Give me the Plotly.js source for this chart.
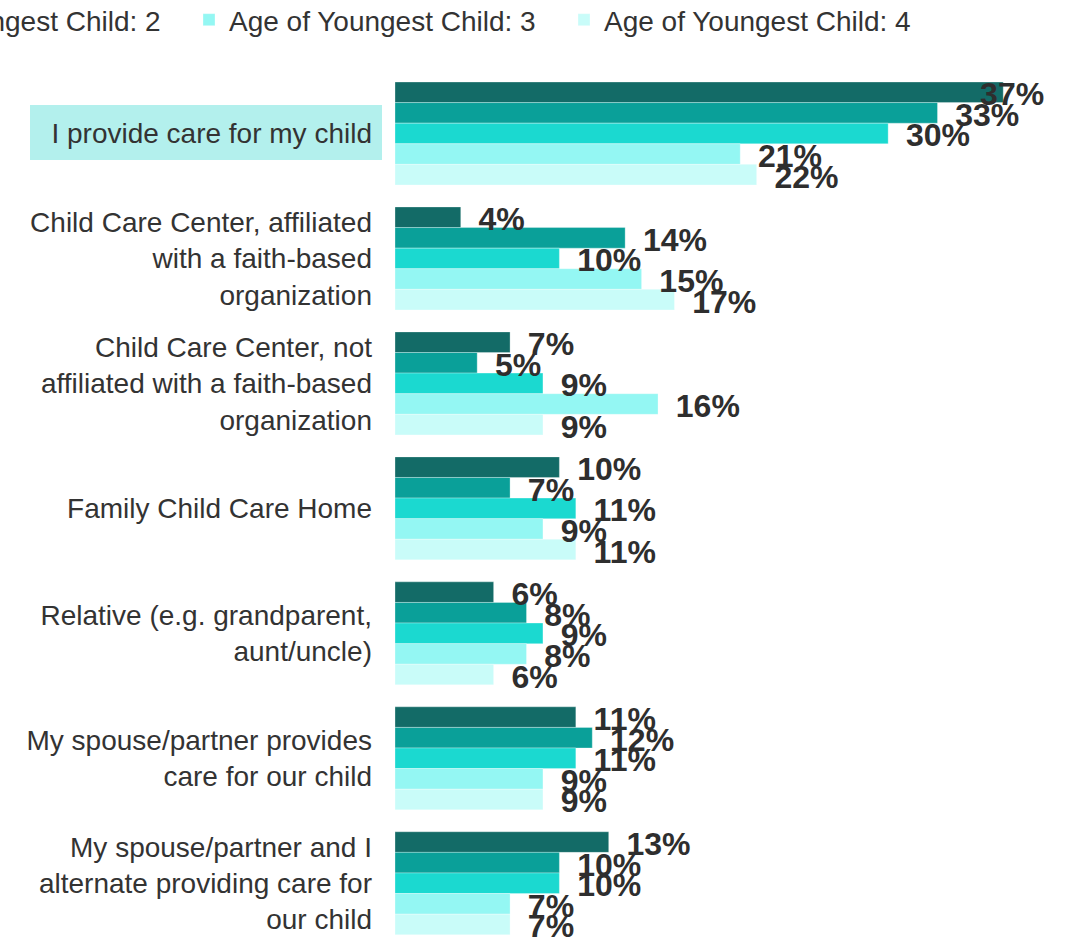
<!DOCTYPE html>
<html>
<head>
<meta charset="utf-8">
<script src="https://cdn.plot.ly/plotly-3.0.1.min.js"></script>
<style>
  html, body { margin: 0; padding: 0; overflow: hidden; background: #fff; }
  #wrap { width: 1069px; height: 937px; overflow: hidden; position: relative; }
  #chart { position: absolute; top: 0; left: -2931px; width: 4000px; height: 937px; }
</style>
</head>
<body>
<div id="wrap"><div id="chart"></div></div>
<script>
// ---- data ----
const categories = [
  "I provide care for my child",
  "Child Care Center, affiliated<br>with a faith-based<br>organization",
  "Child Care Center, not<br>affiliated with a faith-based<br>organization",
  "Family Child Care Home",
  "Relative (e.g. grandparent,<br>aunt/uncle)",
  "My spouse/partner provides<br>care for our child",
  "My spouse/partner and I<br>alternate providing care for<br>our child"
];
const seriesNames = [
  "Age of Youngest Child: 0",
  "Age of Youngest Child: 1",
  "Age of Youngest Child: 2",
  "Age of Youngest Child: 3",
  "Age of Youngest Child: 4"
];
const age0 = [37, 4, 7, 10, 6, 11, 13];
const age1 = [33, 14, 5, 7, 8, 12, 10];
const age2 = [30, 10, 9, 11, 9, 11, 10];
const age3 = [21, 15, 16, 9, 8, 9, 7];
const age4 = [22, 17, 9, 11, 6, 9, 7];
const seriesValues = [age0, age1, age2, age3, age4];

// ---- styles ----
const colors = ["#136b67", "#0aa099", "#1bd9d0", "#94f7f3", "#c9fcf9"];
const xMax = 41.0;
const pad = "\u00a0\u00a0";
const yRange = [6.43, -0.5];
const labelDrop = 0.04; // labels sit slightly below bar centres
// the figure is wider than the window and shifted left (the view is cropped like the reference)
const W = 4000, SHIFT = 2931, L = SHIFT + 395, PW = W - L;
const pageToPaperX = px => (px - 395) / PW;

const traces = [];
seriesValues.forEach((vals, i) => {
  traces.push({
    type: "bar",
    orientation: "h",
    name: seriesNames[i],
    x: vals,
    y: categories,
    offsetgroup: "g" + i,
    alignmentgroup: "a",
    marker: { color: colors[i], line: { color: "rgba(255,255,255,0.6)", width: 0.5 } },
    hoverinfo: "x+name"
  });
});
seriesValues.forEach((vals, i) => {
  traces.push({
    type: "scatter",
    mode: "text",
    orientation: "h",
    x: vals,
    y: categories,
    yaxis: "y2",
    offsetgroup: "t" + i,
    alignmentgroup: "b",
    text: vals.map(v => pad + v + "%"),
    textposition: vals.map(v => (v >= 35 ? "middle center" : "middle right")),
    textfont: { family: "Liberation Sans, Arial, sans-serif", size: 32, weight: "bold", color: "#2e2e2e" },
    cliponaxis: false,
    showlegend: false,
    hoverinfo: "skip"
  });
});

const layout = {
  width: W,
  height: 937,
  margin: { l: L, r: 0, t: 71, b: 0, autoexpand: false },
  paper_bgcolor: "#ffffff",
  plot_bgcolor: "#ffffff",
  barmode: "group",
  bargap: 0.176,
  bargroupgap: 0,
  scattermode: "group",
  scattergap: 0.176,
  font: { family: "Liberation Sans, Arial, sans-serif", color: "#333333" },
  xaxis: { visible: false, range: [0, xMax], fixedrange: true },
  yaxis: {
    type: "category",
    autorange: false,
    range: yRange,
    showgrid: false,
    zeroline: false,
    showline: false,
    ticks: "",
    ticklabelstandoff: 22,
    automargin: false,
    tickfont: { size: 28, color: "#333333" }
  },
  yaxis2: {
    type: "category",
    overlaying: "y",
    autorange: false,
    range: [yRange[0] - labelDrop, yRange[1] - labelDrop],
    visible: false,
    showgrid: false,
    zeroline: false
  },
  legend: {
    orientation: "h",
    x: pageToPaperX(-936),
    xanchor: "left",
    y: 1 + (71 - 20) / 866,
    yanchor: "middle",
    font: { size: 28, color: "#333333" },
    entrywidth: 330,
    entrywidthmode: "pixels",
    traceorder: "normal"
  },
  shapes: [{
    type: "rect",
    xref: "paper", yref: "y",
    x0: pageToPaperX(30), x1: pageToPaperX(382),
    y0: -0.228, y1: 0.212,
    fillcolor: "#b3f0ed",
    line: { width: 0 },
    layer: "below"
  }],
  showlegend: true
};

Plotly.newPlot("chart", traces, layout, { displayModeBar: false, staticPlot: true });
</script>
</body>
</html>
